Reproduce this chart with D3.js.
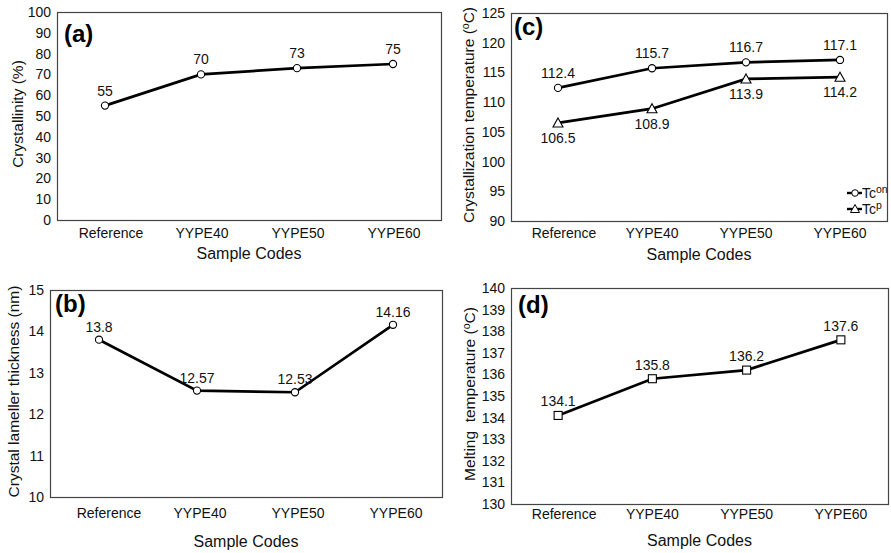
<!DOCTYPE html>
<html>
<head>
<meta charset="utf-8">
<script src="https://d3js.org/d3.v7.min.js"></script>
<style>
  body { margin: 0; background: #fff; }
  svg { font-family: "Liberation Sans", Arial, sans-serif; }
  .tick-lbl { font-size: 14px; fill: #111; }
  .cat-lbl { font-size: 14px; fill: #111; }
  .val-lbl { font-size: 14px; fill: #111; }
  .ax-title { font-size: 15.5px; fill: #111; }
  .panel-lbl { font-size: 24px; font-weight: bold; fill: #000; }
</style>
</head>
<body>
<svg id="chart" width="891" height="553"></svg>
<script>
  // categories shared by all four panels
  var samples = ["Reference", "YYPE40", "YYPE50", "YYPE60"];

  // (a) crystallinity, %
  var crystallinity = [55, 70, 73, 75];
  // (b) crystal lamellar thickness, nm
  var thickness = [13.8, 12.57, 12.53, 14.16];
  // (c) crystallization temperature, onset and peak
  var tcOnset = [112.4, 115.7, 116.7, 117.1];
  var tcPeak = [106.5, 108.9, 113.9, 114.2];
  // (d) melting temperature
  var meltTemp = [134.1, 135.8, 136.2, 137.6];

  var yTicksA = d3.range(0, 101, 10);
  var yTicksB = d3.range(10, 16, 1);
  var yTicksC = d3.range(90, 126, 5);
  var yTicksD = d3.range(130, 141, 1);

  var svg = d3.select("#chart");

  // draws one framed panel, returns its scales
  function panel(opt) {
    var g = svg.append("g");
    var x = d3.scalePoint().domain(samples).range([opt.left, opt.right]).padding(0.5);
    var y = d3.scaleLinear().domain(opt.domain).range([opt.bottom, opt.top]);

    g.append("rect")
      .attr("x", opt.left + 0.5).attr("y", opt.top + 0.5)
      .attr("width", opt.right - opt.left).attr("height", opt.bottom - opt.top)
      .attr("fill", "none").attr("stroke", "#444").attr("stroke-width", 1.2);

    // y tick labels
    g.selectAll(".ty").data(opt.ticks).enter().append("text")
      .attr("class", "tick-lbl")
      .attr("x", opt.left - 6)
      .attr("y", function (d) { return y(d); })
      .attr("dy", "0.36em")
      .attr("text-anchor", "end")
      .text(function (d) { return d; });

    // category labels
    g.selectAll(".tx").data(samples).enter().append("text")
      .attr("class", "cat-lbl")
      .attr("x", function (d) { return x(d) + opt.catShift + (d == "Reference" ? opt.refShift : 0); })
      .attr("y", opt.bottom + opt.catDy)
      .attr("text-anchor", "middle")
      .text(function (d) { return d; });

    g.append("text").attr("class", "ax-title")
      .attr("x", (opt.left + opt.right) / 2)
      .attr("y", opt.bottom + opt.titleDy)
      .attr("text-anchor", "middle")
      .style("font-size", "16px")
      .text("Sample Codes");

    var yt = g.append("text").attr("class", "ax-title")
      .attr("transform", "translate(" + opt.titleX + "," + ((opt.top + opt.bottom) / 2 - 2) + ") rotate(-90)")
      .attr("text-anchor", "middle")
      .attr("xml:space", "preserve");
    yt.append("tspan").text(opt.title);
    if (opt.unitDeg) {
      yt.append("tspan").attr("dy", -5).attr("font-size", "10.5px").text("o");
      yt.append("tspan").attr("dy", 5).text("C)");
    }

    g.append("text").attr("class", "panel-lbl")
      .attr("x", opt.left + opt.lblDx).attr("y", opt.top + opt.lblDy)
      .text(opt.label);

    return { g: g, x: x, y: y };
  }

  function series(p, values, marker, lblDy) {
    var pts = samples.map(function (s, i) { return [p.x(s), p.y(values[i]), values[i]]; });
    p.g.append("path")
      .attr("d", d3.line()(pts.map(function (d) { return [d[0], d[1]]; })))
      .attr("fill", "none").attr("stroke", "#000").attr("stroke-width", 2.7);

    var m = p.g.selectAll(null).data(pts).enter();
    if (marker == "circle") {
      m.append("circle").attr("cx", function (d) { return d[0]; }).attr("cy", function (d) { return d[1]; })
        .attr("r", 3.6).attr("fill", "#fff").attr("stroke", "#000").attr("stroke-width", 1.1);
    } else if (marker == "square") {
      m.append("rect").attr("x", function (d) { return d[0] - 4; }).attr("y", function (d) { return d[1] - 4; })
        .attr("width", 8).attr("height", 8).attr("fill", "#fff").attr("stroke", "#000").attr("stroke-width", 1.1);
    } else {
      m.append("path").attr("transform", function (d) { return "translate(" + d[0] + "," + d[1] + ")"; })
        .attr("d", "M0,-5L5,4L-5,4Z").attr("fill", "#fff").attr("stroke", "#000").attr("stroke-width", 1.1);
    }

    m.append("text").attr("class", "val-lbl")
      .attr("x", function (d) { return d[0]; })
      .attr("y", function (d) { return d[1] + lblDy; })
      .attr("text-anchor", "middle")
      .text(function (d) { return d[2]; });
  }

  var pa = panel({ left: 57, right: 441, top: 12, bottom: 220, domain: [0, 100], ticks: yTicksA,
    titleX: 23, title: "Crystallinity (%)", label: "(a)", lblDx: 7, lblDy: 30,
    catDy: 18, titleDy: 39, catShift: 1, refShift: 5 });
  series(pa, crystallinity, "circle", -10);

  var pb = panel({ left: 50, right: 442, top: 290, bottom: 497, domain: [10, 15], ticks: yTicksB,
    titleX: 19, title: "Crystal lameller thickness (nm)", label: "(b)", lblDx: 5, lblDy: 22,
    catDy: 21, titleDy: 50, catShift: 3, refShift: 7 });
  series(pb, thickness, "circle", -8);

  var pc = panel({ left: 511, right: 887, top: 13, bottom: 221, domain: [90, 125], ticks: yTicksC,
    titleX: 474, title: "Crystallization temperature (", unitDeg: true, label: "(c)", lblDx: 3, lblDy: 22,
    catDy: 17, titleDy: 39, catShift: 0, refShift: 6 });
  series(pc, tcOnset, "circle", -10);
  series(pc, tcPeak, "triangle", 20);

  var pd = panel({ left: 511, right: 888, top: 288, bottom: 504, domain: [130, 140], ticks: yTicksD,
    titleX: 475, title: "Melting  temperature (", unitDeg: true, label: "(d)", lblDx: 7, lblDy: 25,
    catDy: 15, titleDy: 42, catShift: 0, refShift: 6 });
  series(pd, meltTemp, "square", -9);

  // legend for panel (c)
  var leg = pc.g.append("g").attr("transform", "translate(847,193)");
  [{ m: "circle", t: "on" }, { m: "triangle", t: "p" }].forEach(function (d, i) {
    var row = leg.append("g").attr("transform", "translate(0," + (i * 16) + ")");
    row.append("line").attr("x1", 0).attr("x2", 15).attr("stroke", "#000").attr("stroke-width", 2.4);
    if (d.m == "circle") {
      row.append("circle").attr("cx", 8).attr("r", 3.3).attr("fill", "#fff").attr("stroke", "#000");
    } else {
      row.append("path").attr("d", "M8,-4.5L12.5,3.5L3.5,3.5Z").attr("fill", "#fff").attr("stroke", "#000");
    }
    var t = row.append("text").attr("class", "tick-lbl").attr("x", 15).attr("dy", "0.36em");
    t.append("tspan").text("Tc");
    t.append("tspan").attr("dy", -5).attr("font-size", "10.5px").text(d.t);
  });
</script>
</body>
</html>
